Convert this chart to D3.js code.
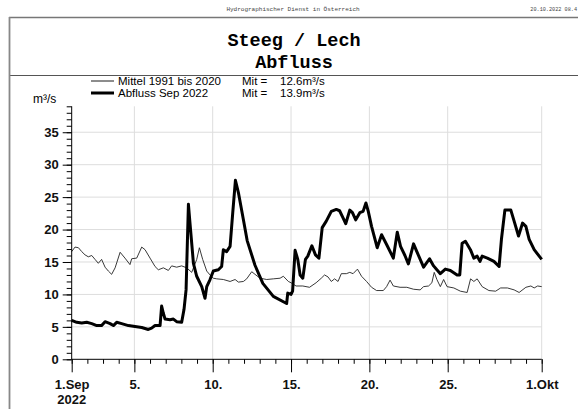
<!DOCTYPE html>
<html>
<head>
<meta charset="utf-8">
<script src="https://cdn.jsdelivr.net/npm/d3@7"></script>
<style>
  body { margin: 0; background: #fff; }
  text { font-family: "Liberation Sans", Arial, sans-serif; }
  .mono { font-family: "Liberation Mono", "Courier New", monospace; }
</style>
</head>
<body>
<div id="chart"></div>
<script>
// day of month (1 = 1.Sep 0:00, 31 = 1.Okt) and discharge in m3/s
var meanSeries = [
  [1.0,16.6],[1.21,17.3],[1.43,17.2],[1.64,16.6],[1.85,16.1],[2.06,15.8],[2.28,16.0],
  [2.49,15.4],[2.70,14.8],[2.91,15.4],[3.13,14.2],[3.34,13.6],[3.55,13.1],[3.77,14.1],
  [4.09,16.5],[4.40,15.6],[4.72,14.6],[4.83,15.5],[5.15,15.6],[5.47,17.3],[5.68,16.9],
  [6.0,15.6],[6.32,14.3],[6.53,13.8],[6.85,14.1],[7.17,13.7],[7.38,14.4],[7.70,14.2],
  [8.02,14.4],[8.34,14.1],[8.66,13.4],[8.98,15.4],[9.15,17.2],[9.36,15.4],[9.62,13.6],
  [9.83,13.0],[10.04,12.5],[10.26,12.4],[10.68,12.3],[11.11,12.0],[11.43,12.3],[11.64,11.9],
  [11.96,12.0],[12.17,12.4],[12.49,13.5],[12.70,13.1],[13.02,12.5],[13.45,12.3],[13.87,12.4],
  [14.30,12.5],[14.51,12.8],[14.83,12.0],[15.0,11.8],[15.32,11.3],[15.75,11.3],[16.18,11.1],
  [16.6,11.8],[16.93,12.5],[17.14,13.0],[17.36,12.7],[17.57,12.0],[17.78,12.4],[18.0,12.0],
  [18.21,13.2],[18.53,13.2],[18.75,13.4],[18.96,13.2],[19.24,13.9],[19.5,12.8],[19.82,12.0],
  [20.14,11.1],[20.46,10.6],[20.89,10.6],[21.1,11.2],[21.32,12.2],[21.53,11.3],[21.96,11.1],
  [22.39,11.1],[22.82,10.8],[23.24,10.7],[23.46,11.2],[23.78,11.3],[23.99,11.8],[24.14,13.4],
  [24.31,12.3],[24.53,11.2],[24.74,12.3],[24.96,11.2],[25.39,11.0],[25.81,10.5],[26.24,10.3],
  [26.46,12.4],[26.67,12.0],[26.88,12.4],[27.2,11.2],[27.63,10.6],[28.06,10.5],[28.38,11.0],
  [28.81,11.0],[29.24,10.7],[29.56,10.3],[29.99,11.1],[30.31,11.3],[30.52,11.0],[30.74,11.3],
  [31.0,11.2]
];

var flowSeries = [
  [1.0,6.0],[1.32,5.7],[1.64,5.6],[1.96,5.7],[2.28,5.5],[2.6,5.2],[2.91,5.2],[3.13,5.8],
  [3.45,5.5],[3.66,5.2],[3.87,5.7],[4.19,5.5],[4.62,5.2],[5.04,5.05],[5.47,4.9],[5.89,4.6],
  [6.1,4.8],[6.32,5.2],[6.64,5.2],[6.74,8.2],[6.85,7.1],[6.96,6.2],[7.28,6.1],[7.49,6.2],
  [7.70,5.8],[8.02,5.7],[8.17,7.7],[8.30,10.7],[8.45,23.9],[8.55,21.0],[8.77,14.8],
  [8.98,12.8],[9.30,11.2],[9.51,9.4],[9.62,11.2],[9.83,12.3],[10.04,13.6],[10.36,13.8],
  [10.57,14.3],[10.68,16.9],[10.89,16.6],[11.11,17.4],[11.28,22.6],[11.45,27.6],[11.64,25.7],
  [11.96,21.5],[12.2,18.3],[12.7,14.5],[13.2,11.7],[13.87,9.7],[14.72,8.6],[14.79,10.2],
  [15.0,10.0],[15.1,10.5],[15.26,16.8],[15.43,15.4],[15.58,13.0],[15.75,12.5],[15.92,15.4],
  [16.07,15.9],[16.33,17.5],[16.56,16.1],[16.78,15.6],[16.99,20.3],[17.25,21.3],[17.57,22.8],
  [17.89,23.1],[18.1,22.9],[18.32,21.8],[18.49,20.9],[18.75,23.0],[18.92,22.6],[19.13,21.5],
  [19.39,22.6],[19.6,22.8],[19.78,24.1],[19.93,22.8],[20.14,20.5],[20.5,17.2],[20.78,19.2],
  [21.1,17.7],[21.53,15.6],[21.78,19.6],[21.99,17.4],[22.27,16.0],[22.49,14.7],[22.82,17.8],
  [23.03,16.6],[23.46,14.2],[23.84,15.5],[24.1,14.4],[24.31,13.8],[24.53,13.2],[24.85,13.9],
  [25.17,13.7],[25.6,13.0],[25.77,13.0],[25.92,17.9],[26.13,18.2],[26.45,16.9],[26.67,15.6],
  [26.88,15.9],[27.06,15.1],[27.2,15.9],[27.53,15.6],[27.95,15.1],[28.28,14.3],[28.43,18.5],
  [28.65,23.0],[29.03,23.0],[29.24,21.3],[29.52,19.0],[29.78,21.0],[29.99,20.5],[30.2,18.5],
  [30.52,16.9],[31.0,15.4]
];

var majorDays = [1, 5, 10, 15, 20, 25, 31];
var dayLabels = ["1.Sep", "5.", "10.", "15.", "20.", "25.", "1.Okt"];
var yMajor = [0, 5, 10, 15, 20, 25, 30, 35];

var W = 578, H = 409;
var svg = d3.select("#chart").append("svg")
    .attr("width", W).attr("height", H);

svg.append("rect").attr("width", W).attr("height", H).attr("fill", "#fff");

// header
svg.append("text").attr("class", "mono")
  .attr("x", 293).attr("y", 11).attr("text-anchor", "middle")
  .attr("font-size", 6).attr("fill", "#444")
  .text("Hydrographischer Dienst in Österreich");
svg.append("text").attr("class", "mono")
  .attr("x", 577).attr("y", 11).attr("text-anchor", "end")
  .attr("font-size", 5.2).attr("fill", "#444")
  .text("20.10.2022 08.4");

// frame
svg.append("line").attr("x1", 9).attr("x2", W).attr("y1", 17.5).attr("y2", 17.5)
  .attr("stroke", "#777").attr("stroke-width", 1.5);
svg.append("line").attr("x1", 9).attr("x2", W).attr("y1", 75.5).attr("y2", 75.5)
  .attr("stroke", "#555").attr("stroke-width", 1.2);
svg.append("line").attr("x1", 9.5).attr("x2", 9.5).attr("y1", 17).attr("y2", H)
  .attr("stroke", "#888").attr("stroke-width", 1.8);

// title
svg.append("text").attr("class", "mono")
  .attr("x", 294).attr("y", 46).attr("text-anchor", "middle")
  .attr("font-size", 18.5).attr("font-weight", "bold")
  .text("Steeg / Lech");
svg.append("text").attr("class", "mono")
  .attr("x", 294).attr("y", 68).attr("text-anchor", "middle")
  .attr("font-size", 18.5).attr("font-weight", "bold")
  .text("Abfluss");

// legend
var legend = [
  {name: "Mittel 1991 bis 2020", mit: "12.6m³/s", w: 0.9, y: 81},
  {name: "Abfluss Sep 2022", mit: "13.9m³/s", w: 3, y: 93}
];
legend.forEach(function(d) {
  svg.append("line").attr("x1", 91).attr("x2", 114).attr("y1", d.y).attr("y2", d.y)
    .attr("stroke", "#000").attr("stroke-width", d.w);
  svg.append("text").attr("x", 118).attr("y", d.y + 4).attr("font-size", 11.5).text(d.name);
  svg.append("text").attr("x", 242).attr("y", d.y + 4).attr("font-size", 11.5).text("Mit =");
  svg.append("text").attr("x", 280).attr("y", d.y + 4).attr("font-size", 11.5).text(d.mit);
});

svg.append("text").attr("x", 33).attr("y", 103).attr("font-size", 12).text("m³/s");

// scales
var x = d3.scaleLinear().domain([1, 31]).range([71.7, 541.7]);
var y = d3.scaleLinear().domain([0, 39]).range([359.3, 106.3]);

// grid
svg.append("g").selectAll("line").data(yMajor.slice(1)).enter().append("line")
  .attr("x1", x(1)).attr("x2", x(31))
  .attr("y1", function(d) { return y(d); }).attr("y2", function(d) { return y(d); })
  .attr("stroke", "#ddd").attr("stroke-width", 1);
svg.append("g").selectAll("line").data(majorDays.slice(1)).enter().append("line")
  .attr("x1", function(d) { return x(d); }).attr("x2", function(d) { return x(d); })
  .attr("y1", y(39)).attr("y2", y(0))
  .attr("stroke", "#ddd").attr("stroke-width", 1);

// lines
var line = d3.line()
  .x(function(d) { return x(d[0]); })
  .y(function(d) { return y(d[1]); });

svg.append("path").datum(meanSeries)
  .attr("fill", "none").attr("stroke", "#222").attr("stroke-width", 0.9)
  .attr("d", line);
svg.append("path").datum(flowSeries)
  .attr("fill", "none").attr("stroke", "#000").attr("stroke-width", 3)
  .attr("stroke-linejoin", "round")
  .attr("d", line);

// y axis: minor ticks every 1, major every 5
var yAxisMinor = d3.axisLeft(y).tickValues(d3.range(0, 40)).tickSize(5).tickFormat("");
var gy = svg.append("g").attr("transform", "translate(" + x(1) + ",0)").call(yAxisMinor);
gy.select(".domain").attr("d", "M0," + y(39) + "V" + y(0));
var yAxisMajor = d3.axisLeft(y).tickValues(yMajor).tickSize(9).tickPadding(4);
var gy2 = svg.append("g").attr("transform", "translate(" + x(1) + ",0)").call(yAxisMajor);
gy2.select(".domain").remove();
gy2.selectAll("text").attr("font-size", 13).attr("font-weight", "bold")
  .attr("font-family", "Liberation Sans, Arial, sans-serif").attr("fill", "#111");

// x axis
var xAxisMinor = d3.axisBottom(x).tickValues(d3.range(1, 32)).tickSize(4.5).tickFormat("");
var gx = svg.append("g").attr("transform", "translate(0," + y(0) + ")").call(xAxisMinor);
gx.select(".domain").attr("d", "M" + x(1) + ",0H" + x(31));
var xAxisMajor = d3.axisBottom(x).tickValues(majorDays).tickSize(13).tickPadding(7)
  .tickFormat(function(d, i) { return dayLabels[i]; });
var gx2 = svg.append("g").attr("transform", "translate(0," + y(0) + ")").call(xAxisMajor);
gx2.select(".domain").remove();
gx2.selectAll("text").attr("font-size", 13).attr("font-weight", "bold")
  .attr("font-family", "Liberation Sans, Arial, sans-serif").attr("fill", "#111");

svg.append("text").attr("x", x(1)).attr("y", 404).attr("text-anchor", "middle")
  .attr("font-size", 13).attr("font-weight", "bold").attr("fill", "#111").text("2022");
</script>
</body>
</html>
